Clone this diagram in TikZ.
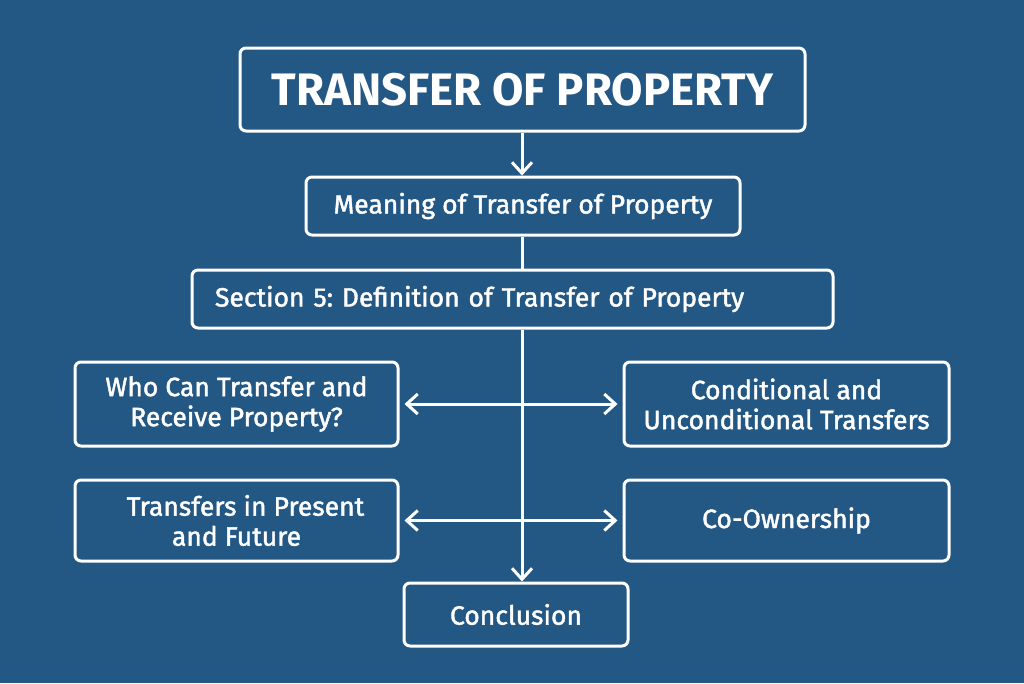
\documentclass[tikz,border=0pt]{standalone}
\usepackage{fontspec}
\setmainfont{Fira Sans}[UprightFeatures={FakeBold=1.6}]
\usetikzlibrary{arrows.meta}
\definecolor{bgblue}{RGB}{36,88,132}
\frenchspacing
\tikzset{
  box/.style={draw=white, line width=3pt, rounded corners=6pt, text=white,
    align=center, inner sep=0pt, font=\fontsize{26.5}{30}\selectfont},
  link/.style={draw=white, line width=3pt},
  tip/.style={-{Straight Barb[length=11pt,width=20pt,line width=3pt]}},
  tips/.style={{Straight Barb[length=11pt,width=20pt,line width=3pt]}-{Straight Barb[length=11pt,width=20pt,line width=3pt]},
    shorten <=5pt, shorten >=5pt}
}
\begin{document}
\begin{tikzpicture}[x=1pt,y=-1pt]
      \fill[bgblue] (0,0) rectangle (1024,683);
      \useasboundingbox (0,0) rectangle (1024,683);
      \node (title) at (522.5,89.5) [box, minimum width=565, minimum height=83,
        font=\fontsize{45.5}{52}\selectfont\bfseries] {TRANSFER OF PROPERTY};
      \node (meaning) at (523,206) [box, minimum width=434, minimum height=58]
        {Meaning of Transfer of Property};
      \node (section) at (512.5,299) [box, minimum width=641, minimum height=58,
        inner xsep=23pt, text width=595, align=left]
        {Section 5: Definition of Transfer of Property};
      \node (who) at (236.5,404) [box, minimum width=323, minimum height=84]
        {Who Can Transfer and\\Receive Property?};
      \node (cond) at (786.5,404) [box, minimum width=325, minimum height=84]
        {Conditional and\\Unconditional Transfers};
      \node (present) at (236.5,520.5) [box, minimum width=323, minimum height=81]
        {\hspace*{18pt}Transfers in Present\\and Future};
      \node (coown) at (786.5,520.5) [box, minimum width=325, minimum height=81]
        {Co-Ownership};
      \node (concl) at (516,614.5) [box, minimum width=224, minimum height=63]
        {Conclusion};
      \coordinate (spine) at (522,0);
      % spine
      \draw[link, tip] (title.south -| spine) -- (meaning.north -| spine);
      \draw[link] (meaning.south -| spine) -- (section.north -| spine);
      \draw[link, tip] (section.south -| spine) -- (concl.north -| spine);
      % side arrows
      \draw[link, tips] (who.east) -- (cond.west);
      \draw[link, tips] (present.east) -- (coown.west);
\end{tikzpicture}
\end{document}
